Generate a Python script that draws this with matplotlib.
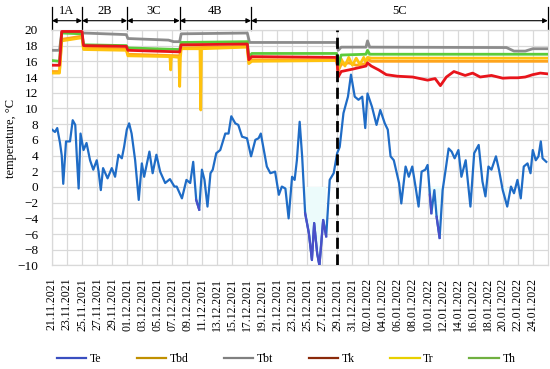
import numpy as np
import pandas as pd
import matplotlib
matplotlib.use("Agg")
import matplotlib.pyplot as plt
from matplotlib.lines import Line2D

plt.rcParams['font.family'] = ['Liberation Serif', 'DejaVu Serif']

# ---------------- data (days since 21.11.2021 00:00) ----------------
te_day = [0.0, 0.4, 0.7, 1.07, 1.3, 1.5, 1.87, 2.4, 2.76, 3.1, 3.3, 3.55, 3.8, 4.2, 4.6, 5.07, 5.5, 5.96,
          6.2, 6.5, 6.8, 7.4, 7.96, 8.4, 8.85, 9.3, 9.6, 9.96, 10.27, 10.6, 11.07, 11.3, 11.55, 11.96,
          12.27, 12.97, 13.4, 13.9, 14.4, 15.07, 15.7, 16.3, 16.6, 17.3, 17.9, 18.4, 18.8, 19.2, 19.6,
          19.96, 20.3, 20.7, 21.1, 21.4, 21.87, 22.4, 23.07, 23.5, 23.87, 24.4, 24.8, 25.3, 25.96, 26.5,
          27.07, 27.5, 27.8, 28.2, 28.6, 29.07, 29.7, 30.2, 30.6, 31.07, 31.5, 31.96, 32.3, 32.6, 32.97,
          33.3, 33.7, 34.2, 34.6, 34.9, 35.3, 35.6, 36.1, 36.5, 36.97, 37.5, 37.96, 38.3, 38.8, 39.4,
          39.8, 40.3, 40.8, 41.3, 41.7, 42.0, 42.6, 43.2, 43.7, 44.3, 44.7, 45.07, 45.5, 46.2, 46.5,
          47.07, 47.5, 47.96, 48.4, 48.8, 49.2, 49.7, 50.0, 50.3, 50.5, 50.9, 51.2, 51.6, 52.0, 52.4,
          52.8, 53.2, 53.6, 54.1, 54.5, 55.07, 55.7, 56.2, 56.8, 57.3, 57.7, 58.1, 58.5, 59.1, 59.5,
          60.0, 60.6, 61.1, 61.5, 61.96, 62.4, 62.8, 63.3, 63.7, 64.0, 64.4, 64.76, 65.07, 65.3, 65.8]
te_val = [7.3, 7.0, 7.5, 5.6, 4.0, 0.4, 5.8, 5.8, 8.5, 7.9, 4.0, -0.2, 6.8, 4.7, 5.6, 3.4, 2.2, 3.4,
          2.0, -0.4, 2.4, 1.1, 2.4, 1.3, 4.1, 3.65, 5.1, 7.3, 8.1, 6.8, 3.4, 1.0, -1.65, 3.0,
          1.3, 4.5, 1.75, 4.1, 1.95, 0.5, 1.0, 0.05, 0.05, -1.45, 0.9, 0.5, 3.2, -1.65, -2.9,
          2.2, 0.9, -2.5, 1.75, 2.2, 4.3, 4.7, 6.8, 6.8, 9.0, 8.1, 7.9, 6.4, 6.2, 3.9,
          6.0, 6.2, 6.8, 4.7, 2.6, 1.75, 1.95, -1.0, 0.05, -0.2, -4.0, 1.3, 0.9, 3.4, 8.3,
          3.9, -3.35, -5.9, -9.3, -4.6, -8.45, -10.0, -4.2, -6.3, 0.9, 1.75, 4.3, 5.1, 9.4, 11.5,
          14.3, 11.5, 11.1, 11.5, 7.5, 11.9, 10.2, 7.9, 9.8, 8.1, 7.3, 3.9, 3.4, 0.5, -2.1,
          2.6, 1.3, 2.6, 0.0, -2.5, 1.95, 2.2, 2.8, -1.0, -3.35, -0.4, -3.8, -6.5, -0.4, 2.2,
          4.9, 4.5, 3.65, 4.7, 1.3, 3.4, -2.5, 4.3, 5.35, 0.7, -1.2, 2.6, 2.2, 3.9, 2.2,
          -0.4, -2.5, 0.05, -0.8, 0.9, -1.45, 2.6, 3.0, 1.75, 4.7, 3.4, 3.9, 5.8, 3.65, 3.2]

tbt_day = [0, 1.0, 1.3, 4.0, 4.2, 9.9, 10.1, 15.5, 16.2, 17.0, 17.2, 26.0, 26.3, 37.9, 38.1, 38.5,
           41.8, 42.0, 42.3, 60.5, 61.5, 63.0, 64.0, 66]
tbt_val = [17.4, 17.4, 19.7, 19.7, 19.6, 19.4, 18.9, 18.7, 18.5, 18.5, 19.5, 19.6, 18.4, 18.4, 17.4,
           17.8, 17.8, 18.6, 17.8, 17.75, 17.3, 17.3, 17.6, 17.6]

th_day = [0, 1.0, 1.3, 4.0, 4.2, 9.9, 10.1, 17.0, 17.2, 26.0, 26.2, 26.6, 37.9, 38.1, 38.5, 41.8,
          42.0, 42.3, 66]
th_val = [16.1, 16.0, 19.6, 19.5, 18.1, 18.0, 17.7, 17.5, 18.4, 18.5, 16.5, 17.0, 17.0, 15.5, 16.8,
          16.9, 17.4, 16.9, 16.9]

tk_day = [0, 1.0, 1.3, 4.0, 4.2, 9.9, 10.1, 17.0, 17.2, 26.0, 26.2, 26.6, 37.9, 38.1, 38.5, 40.0,
          41.8, 42.0, 42.5, 43.5, 44.5, 46.0, 48.0, 50.0, 51.0, 51.7, 52.5, 53.5, 55.0, 56.0, 57.0,
          58.5, 60.0, 61.0, 62.0, 63.0, 64.0, 65.0, 66]
tk_val = [15.5, 15.5, 19.8, 19.8, 18.0, 17.9, 17.4, 17.2, 18.1, 18.2, 16.2, 16.6, 16.5, 14.0, 14.7,
          15.0, 15.4, 15.8, 15.4, 14.9, 14.3, 14.1, 14.0, 13.6, 13.8, 12.9, 14.0, 14.7, 14.2, 14.5,
          14.0, 14.2, 13.85, 13.9, 13.9, 14.0, 14.3, 14.5, 14.4]

tbd_day = [0, 1.0, 1.3, 4.0, 4.2, 9.9, 10.1, 17.0, 17.2, 26.0, 26.2, 26.6, 37.9, 38.1, 38.5, 39.5,
           40.5, 41.8, 42.0, 42.5, 66]
tbd_val = [14.7, 14.7, 18.8, 19.2, 17.7, 17.6, 16.9, 16.7, 17.7, 17.9, 15.9, 16.2, 16.2, 14.8, 15.6,
           15.8, 15.5, 15.7, 16.3, 16.0, 16.0]

tr_day = [0, 1.0, 1.3, 4.0, 4.2, 9.9, 10.1, 15.7, 15.8, 15.9, 16.9, 17.0, 17.1, 17.2, 19.7, 19.8,
          19.9, 26.0, 26.2, 26.6, 37.9, 38.1, 38.5, 39.0, 39.5, 40.0, 40.5, 41.0, 41.5, 41.8, 42.0,
          42.5, 66]
tr_val = [14.5, 14.5, 18.6, 19.0, 17.5, 17.4, 16.7, 16.6, 14.9, 16.6, 16.5, 12.8, 16.5, 17.6, 17.6,
          9.8, 17.6, 17.8, 15.7, 16.0, 16.1, 14.9, 16.3, 15.4, 16.5, 15.5, 16.4, 15.6, 16.5, 15.8,
          16.5, 16.4, 16.4]

phase_names = ['1A', '2B', '3C', '4B', '5C']
phase_bounds = [0, 4, 10, 17, 26.5, 66]
switch_day = 38

start = pd.Timestamp('2021-11-21')
tick_dates = pd.date_range('2021-11-21', '2022-01-24', freq='2D')
tick_labels = [d.strftime('%d.%m.%Y') for d in tick_dates]
tick_pos = [(d - start).days for d in tick_dates]

# ---------------- figure ----------------
fig = plt.figure(figsize=(5.5, 3.69), dpi=100)
ax = fig.add_axes([0.0945, 0.2805, 0.9015, 0.6385])

te_d = np.array(te_day)
te_v = np.array(te_val)
ax.fill_between(te_d, te_v, 0, where=te_v < 0, color='#ECFBFB', lw=0, zorder=1)
ax.plot(te_d, te_v, color='#1F6CC6', lw=1.6, zorder=3)
ax.plot(te_d, np.ma.masked_where(te_v > -0.5, te_v), color='#4A50C8', lw=1.6, zorder=3)

ax.plot(tbd_day, tbd_val, color='#FFA41B', lw=2.0, zorder=3)
ax.plot(tr_day, tr_val, color='#FFC20E', lw=2.0, zorder=3)
ax.plot(tbt_day, tbt_val, color='#8C8C8C', lw=2.0, zorder=3)
ax.plot(th_day, th_val, color='#5CCB3A', lw=2.0, zorder=3)
ax.plot(tk_day, tk_val, color='#E8141B', lw=2.0, zorder=4)

ax.axvline(switch_day, color='black', lw=2.0, ls=(0, (4, 2)), zorder=5)

ax.set_xlim(0, 66)
ax.set_ylim(-10, 20)
ax.set_yticks(np.arange(-10, 21, 2))
ax.set_xticks(tick_pos)
ax.set_xticklabels(tick_labels, rotation=90, fontsize=8.5)
ax.tick_params(axis='y', labelsize=9.5, length=0, pad=10)
ax.tick_params(axis='x', length=0, pad=9)
ax.grid(True, color='#D9D9D9', lw=0.9, zorder=0)
ax.set_axisbelow(True)
for s in ax.spines.values():
    s.set_color('#D9D9D9')
    s.set_linewidth(0.9)

ax.set_ylabel('temperature, °C', fontsize=9)
ax.yaxis.set_label_coords(-0.07, 0.54)

# phase annotations
trans = ax.get_xaxis_transform()
for b in phase_bounds:
    ax.plot([b, b], [1.0, 1.098], transform=trans, color='black', lw=0.9, clip_on=False)
for i, name in enumerate(phase_names):
    a, b = phase_bounds[i], phase_bounds[i + 1]
    ax.annotate('', xy=(a, 1.039), xytext=(b, 1.039), xycoords=trans, textcoords=trans,
                arrowprops=dict(arrowstyle='<|-|>', color='black', lw=0.8,
                                mutation_scale=7, shrinkA=0, shrinkB=0))
    ax.text((a + b) / 2, 1.082, name, transform=trans, ha='center', va='center', fontsize=9)

# legend
leg_names = ['Te', 'Tbd', 'Tbt', 'Tk', 'Tr', 'Th']
leg_colors = ['#3A4FC0', '#C09000', '#808080', '#8B2A0A', '#E8D000', '#70B040']
handles = [Line2D([], [], color=c, lw=1.6) for c in leg_colors]
fig.legend(handles, leg_names, loc='center', bbox_to_anchor=(0.52, 0.028), ncol=6,
           frameon=False, fontsize=8.5, handlelength=2.5, handletextpad=0.3, columnspacing=3.0)

fig.savefig('out.png', dpi=100)
